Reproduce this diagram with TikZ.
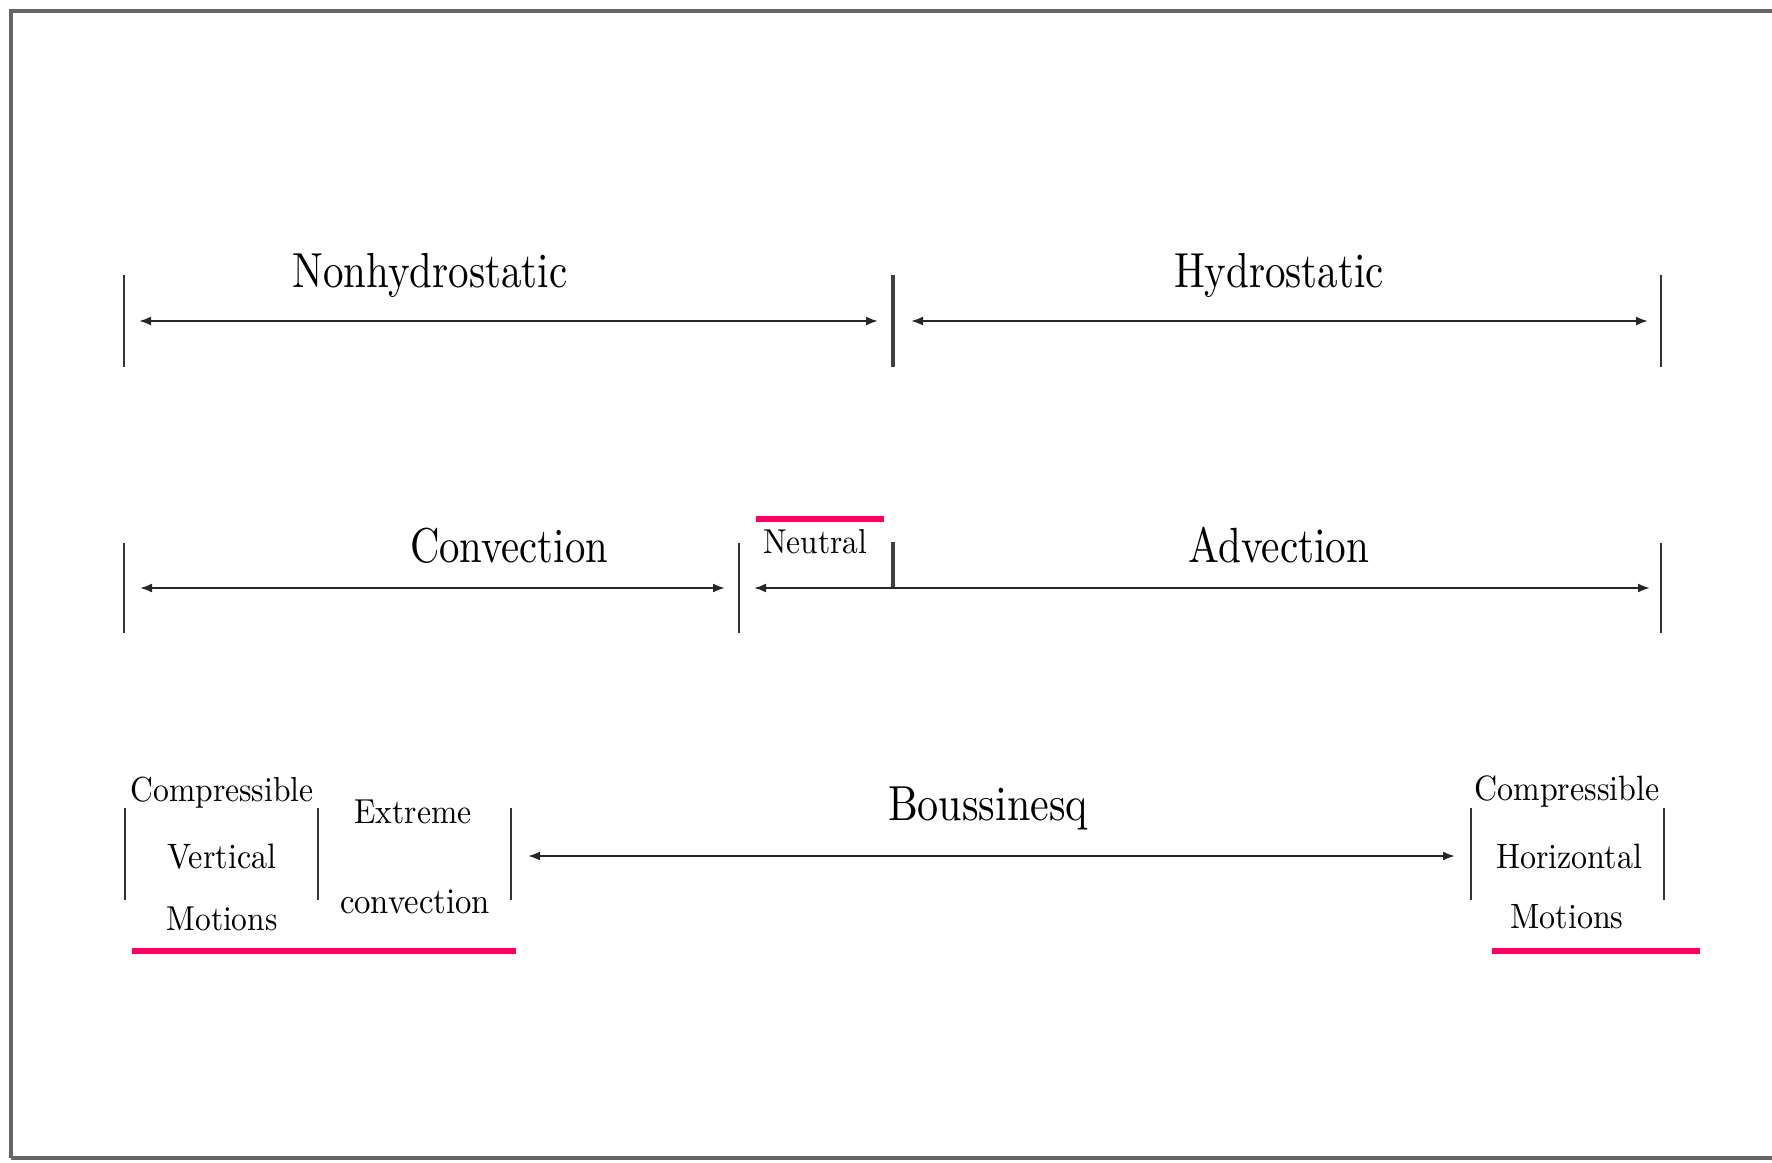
\documentclass[tikz,border=0pt]{standalone}
\usepackage{graphicx}
\usetikzlibrary{arrows.meta}
\definecolor{pinkline}{RGB}{255,0,102}
\newcommand\fitlbl[3]{\scalebox{1}[#1]{\resizebox{#2}{!}{\fontsize{10}{12}\selectfont #3}}}
\tikzset{
  lbl/.style={anchor=base, inner sep=0pt, outer sep=0pt, text=black},
  tickline/.style={line width=1.4pt, black!80},
  thicktick/.style={line width=2.2pt, black!75},
  span/.style={line width=1pt, black!85, {Latex[length=6pt,width=4.5pt]}-{Latex[length=6pt,width=4.5pt]}},
  pinkbar/.style={line width=3pt, pinkline},
  framel/.style={line width=1.6pt, black!60}
}
\begin{document}
\begin{tikzpicture}[x=0.5pt,y=-0.5pt]
\useasboundingbox (0,0) rectangle (1772,1162);
% frame
\draw[framel] (11,1158) -- (11,11) -- (1772,11);
\draw[framel] (11,1158) -- (1772,1158);

% ---------- row 1 ----------
\draw[tickline] (124,275) -- (124,367);
\draw[thicktick] (893,275) -- (893,367);
\draw[tickline] (1661,275) -- (1661,367);
\coordinate (a1) at (139,321);
\coordinate (b1) at (878,321);
\coordinate (c1) at (911,321);
\coordinate (d1) at (1648,321);
\draw[span] (a1) -- (b1);
\draw[span] (c1) -- (d1);
\node[lbl] (nonhydro) at (430,287) {\fitlbl{1.2}{137.5pt}{Nonhydrostatic}};
\node[lbl] (hydro) at (1279,287) {\fitlbl{1.2}{105pt}{Hydrostatic}};

% ---------- row 2 ----------
\draw[tickline] (124,543) -- (124,633);
\draw[tickline] (739,543) -- (739,633);
\draw[tickline] (1661,543) -- (1661,633);
\draw[thicktick] (893,542) -- (893,588);
\coordinate (a2) at (140,588);
\coordinate (b2) at (725,588);
\coordinate (c2) at (754,588);
\coordinate (d2) at (1650,588);
\draw[span] (a2) -- (b2);
\draw[span] (c2) -- (d2);
\node[lbl] (conv) at (509,562) {\fitlbl{1.2}{99pt}{Convection}};
\node[lbl] (adv) at (1279,562) {\fitlbl{1.2}{90.5pt}{Advection}};
\node[lbl] (neutral) at (815,553) {\fitlbl{1.1}{52pt}{Neutral}};
\draw[pinkbar] (756,519) -- (884,519);

% ---------- row 3 ----------
\draw[tickline] (125,808) -- (125,900);
\draw[tickline] (318,808) -- (318,900);
\draw[tickline] (511,808) -- (511,900);
\draw[tickline] (1471,808) -- (1471,900);
\draw[tickline] (1664,808) -- (1664,900);
\coordinate (a3) at (528,856);
\coordinate (b3) at (1455,856);
\draw[span] (a3) -- (b3);
\node[lbl] (bouss) at (988,820) {\fitlbl{1.17}{100pt}{Boussinesq}};
\node[lbl] (compv) at (222,801) {\fitlbl{1.1}{91.5pt}{Compressible}};
\node[lbl] (vert) at (222,868) {\fitlbl{1.1}{54.5pt}{Vertical}};
\node[lbl] (motv) at (222,930) {\fitlbl{1.1}{55.5pt}{Motions}};
\node[lbl] (extr) at (413,823) {\fitlbl{1.1}{58.5pt}{Extreme}};
\node[lbl] (extconv) at (415,913) {\fitlbl{1.1}{75pt}{convection}};
\node[lbl] (comph) at (1567,800) {\fitlbl{1.1}{92.5pt}{Compressible}};
\node[lbl] (horiz) at (1569,868) {\fitlbl{1.1}{73pt}{Horizontal}};
\node[lbl] (moth) at (1567,928) {\fitlbl{1.1}{56.5pt}{Motions}};
\draw[pinkbar] (132,951) -- (516,951);
\draw[pinkbar] (1492,951) -- (1700,951);
\end{tikzpicture}
\end{document}
